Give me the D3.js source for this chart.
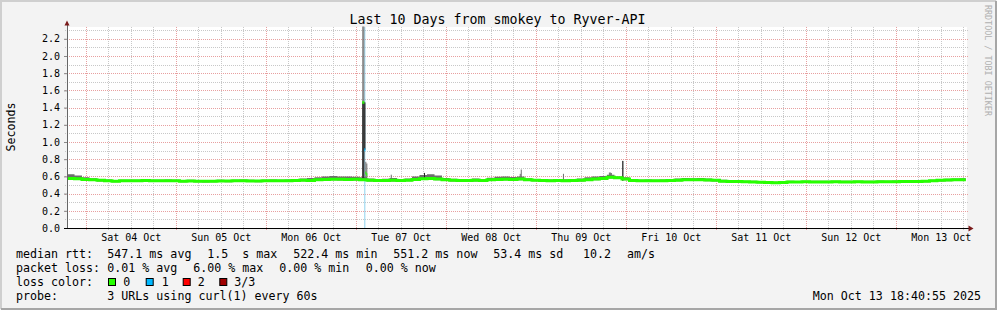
<!DOCTYPE html>
<html>
<head>
<meta charset="utf-8">
<script src="https://cdn.jsdelivr.net/npm/d3@7"></script>
<style>
	body { margin: 0; background: #f3f3f3; }
	svg text { font-family: "DejaVu Sans Mono", monospace; white-space: pre; fill: #000; }
</style>
</head>
<body>
<div id="chart"></div>
<script>
(function () {
	"use strict";

	// ---- data ----
	var title = "Last 10 Days from smokey to Ryver-API";
	var yLabel = "Seconds";
	var yTicks = [0.0, 0.2, 0.4, 0.6, 0.8, 1.0, 1.2, 1.4, 1.6, 1.8, 2.0, 2.2];
	var dayStarts = ["2025-10-04", "2025-10-05", "2025-10-06", "2025-10-07", "2025-10-08",
		"2025-10-09", "2025-10-10", "2025-10-11", "2025-10-12", "2025-10-13"];
	var dayLabels = ["Sat 04 Oct", "Sun 05 Oct", "Mon 06 Oct", "Tue 07 Oct", "Wed 08 Oct",
		"Thu 09 Oct", "Fri 10 Oct", "Sat 11 Oct", "Sun 12 Oct", "Mon 13 Oct"];
	var viewStart = "2025-10-03T19:00:00",
		viewEnd = "2025-10-13T19:00:00",
		lastSample = "2025-10-13T18:40:55";

	// two-hourly samples starting at viewStart (seconds)
	var sampleHours = 2;
	var median = [
		0.575, 0.572, 0.565, 0.560, 0.555, 0.550, 0.545, 0.548, 0.550, 0.548,
		0.552, 0.550, 0.548, 0.550, 0.548, 0.545, 0.547, 0.545, 0.543, 0.545,
		0.547, 0.546, 0.548, 0.550, 0.547, 0.546, 0.548, 0.550, 0.548, 0.550,
		0.552, 0.555, 0.553, 0.560, 0.565, 0.568, 0.567, 0.565, 0.566, 0.560,
		0.555, 0.552, 0.553, 0.555, 0.553, 0.556, 0.565, 0.572, 0.575, 0.570,
		0.560, 0.555, 0.553, 0.552, 0.555, 0.553, 0.560, 0.565, 0.568, 0.565,
		0.570, 0.560, 0.556, 0.553, 0.550, 0.552, 0.550, 0.552, 0.555, 0.562,
		0.570, 0.575, 0.590, 0.585, 0.570, 0.552, 0.548, 0.550, 0.548, 0.550,
		0.552, 0.556, 0.560, 0.560, 0.562, 0.558, 0.555, 0.545, 0.540, 0.540,
		0.537, 0.535, 0.533, 0.530, 0.525, 0.530, 0.535, 0.535, 0.537, 0.535,
		0.536, 0.535, 0.537, 0.535, 0.536, 0.537, 0.535, 0.536, 0.538, 0.537,
		0.538, 0.540, 0.540, 0.542, 0.545, 0.548, 0.555, 0.558, 0.560, 0.562
	];
	var smokeHigh = [
		0.625, 0.610, 0.590, 0.578, 0.570, 0.565, 0.558, 0.560, 0.562, 0.560,
		0.565, 0.562, 0.560, 0.563, 0.560, 0.558, 0.560, 0.557, 0.556, 0.558,
		0.560, 0.558, 0.560, 0.563, 0.560, 0.558, 0.560, 0.563, 0.560, 0.565,
		0.568, 0.575, 0.580, 0.590, 0.600, 0.605, 0.598, 0.600, 0.595, 0.590,
		0.575, 0.570, 0.572, 0.580, 0.570, 0.575, 0.600, 0.615, 0.625, 0.610,
		0.580, 0.572, 0.570, 0.568, 0.575, 0.570, 0.585, 0.595, 0.600, 0.592,
		0.600, 0.578, 0.570, 0.568, 0.565, 0.568, 0.566, 0.570, 0.575, 0.590,
		0.600, 0.605, 0.620, 0.600, 0.590, 0.568, 0.562, 0.565, 0.562, 0.565,
		0.568, 0.575, 0.580, 0.578, 0.580, 0.575, 0.570, 0.560, 0.552, 0.553,
		0.550, 0.548, 0.546, 0.542, 0.538, 0.543, 0.548, 0.547, 0.550, 0.548,
		0.549, 0.548, 0.550, 0.548, 0.549, 0.550, 0.548, 0.549, 0.551, 0.550,
		0.552, 0.553, 0.554, 0.556, 0.558, 0.562, 0.568, 0.572, 0.575, 0.578
	];
	var smokeLow = [
		0.560, 0.560, 0.552, 0.548, 0.542, 0.537, 0.532, 0.535, 0.538, 0.535,
		0.540, 0.537, 0.535, 0.538, 0.535, 0.532, 0.535, 0.532, 0.530, 0.533,
		0.535, 0.533, 0.535, 0.538, 0.534, 0.533, 0.535, 0.538, 0.535, 0.538,
		0.540, 0.543, 0.540, 0.547, 0.552, 0.555, 0.553, 0.552, 0.553, 0.547,
		0.542, 0.540, 0.540, 0.542, 0.540, 0.543, 0.552, 0.558, 0.560, 0.556,
		0.547, 0.542, 0.540, 0.540, 0.542, 0.540, 0.547, 0.552, 0.555, 0.552,
		0.556, 0.547, 0.543, 0.540, 0.537, 0.540, 0.537, 0.540, 0.542, 0.548,
		0.556, 0.560, 0.575, 0.570, 0.556, 0.538, 0.535, 0.537, 0.535, 0.537,
		0.538, 0.543, 0.547, 0.547, 0.549, 0.545, 0.542, 0.533, 0.527, 0.527,
		0.524, 0.522, 0.520, 0.517, 0.512, 0.517, 0.522, 0.522, 0.524, 0.522,
		0.523, 0.522, 0.524, 0.522, 0.523, 0.524, 0.522, 0.523, 0.525, 0.524,
		0.525, 0.527, 0.527, 0.529, 0.532, 0.535, 0.542, 0.545, 0.547, 0.549
	];

	// single-step excursions (16 minute steps)
	var spikeTimes = ["2025-10-07T01:45", "2025-10-07T02:01", "2025-10-07T02:17", "2025-10-07T02:33",
		"2025-10-07T02:49", "2025-10-07T09:20", "2025-10-07T18:12", "2025-10-08T19:44", "2025-10-08T20:00",
		"2025-10-09T07:15", "2025-10-09T19:30", "2025-10-09T19:46", "2025-10-09T20:02", "2025-10-09T23:05"];
	var spikeLow =     [0.56, 0.56, 0.91, 0.57, 0.57, 0.56, 0.56, 0.57, 0.57, 0.55, 0.58, 0.58, 0.58, 0.55];
	var spikeHigh =    [2.50, 2.50, 1.46, 0.77, 0.75, 0.62, 0.64, 0.63, 0.68, 0.63, 0.645, 0.645, 0.64, 0.78];
	var spikeDarkLow = [0.58, 0.58, 0.91, null, null, null, 0.56, null, null, null, null, null, null, 0.55];
	var spikeDarkHigh = [1.46, 1.46, 1.46, null, null, null, 0.64, null, null, null, null, null, null, 0.78];
	var spikeMedian =  [1.46, 1.46, 0.91, 0.64, 0.62, null, null, null, null, null, null, null, null, null];
	var spikeLoss =    [0, 0, 1, 0, 0, 0, 0, 0, 0, 0, 0, 0, 0, 0];

	var lossColors = ["#26ff00", "#00b8ff", "#ff0000", "#a00000"];
	var lossLabels = ["0", "1", "2", "3/3"];

	var legendRtt = [["median rtt:", 16], ["547.1 ms avg", 107.3], ["1.5  s max", 207.3],
		["522.4 ms min", 293.3], ["551.2 ms now", 393.3], ["53.4 ms sd", 493.3], ["10.2", 583], ["am/s", 627]];
	var legendLoss = [["packet loss:", 16], ["0.01 % avg", 107.3], ["6.00 % max", 193.3],
		["0.00 % min", 279.3], ["0.00 % now", 365.7]];
	var probeText = "3 URLs using curl(1) every 60s";
	var stampText = "Mon Oct 13 18:40:55 2025";
	var sideText = "RRDTOOL / TOBI OETIKER";

	// ---- drawing ----
	var W = 997, H = 310,
		plot = {left: 67, right: 967, top: 27, bottom: 228};

	var parse = function (s) { return new Date(s); };
	var svg = d3.select("#chart").append("svg")
		.attr("width", W).attr("height", H);

	svg.append("rect").attr("width", W).attr("height", H).attr("fill", "#f3f3f3");
	// frame
	svg.append("path").attr("d", "M1,309V1H996").attr("fill", "none").attr("stroke", "#cfcfcf").attr("stroke-width", 2);
	svg.append("path").attr("d", "M1,309H996V1").attr("fill", "none").attr("stroke", "#a6a6a6").attr("stroke-width", 2);

	var x = d3.scaleTime()
		.domain([parse(viewStart), parse(viewEnd)])
		.range([plot.left, plot.right]);
	var y = d3.scaleLinear()
		.domain([0, 2.337])
		.range([plot.bottom, plot.top]);

	svg.append("rect")
		.attr("x", plot.left).attr("y", plot.top)
		.attr("width", plot.right - plot.left).attr("height", plot.bottom - plot.top)
		.attr("fill", "#fff");

	svg.append("defs").append("clipPath").attr("id", "clip")
		.append("rect")
		.attr("x", plot.left).attr("y", plot.top - 0.5)
		.attr("width", plot.right - plot.left + 1).attr("height", plot.bottom - plot.top + 0.5);

	// grid
	var grid = svg.append("g").attr("shape-rendering", "crispEdges");
	var minorY = d3.range(1, 24).map(function (i) { return i / 10; }).filter(function (v) { return Math.round(v * 10) % 2; });
	grid.selectAll("line.hmin").data(minorY).enter().append("line")
		.attr("x1", plot.left - 2).attr("x2", plot.right + 1)
		.attr("y1", function (d) { return Math.round(y(d)) + 0.5; })
		.attr("y2", function (d) { return Math.round(y(d)) + 0.5; })
		.attr("stroke", "#c8c8c8").attr("stroke-dasharray", "1,1");
	var sixHours = d3.timeHour.every(6).range(parse(viewStart), parse(viewEnd))
		.filter(function (d) { return d.getHours() !== 0; });
	grid.selectAll("line.vmin").data(sixHours).enter().append("line")
		.attr("x1", function (d) { return Math.round(x(d)) + 0.5; })
		.attr("x2", function (d) { return Math.round(x(d)) + 0.5; })
		.attr("y1", plot.top).attr("y2", plot.bottom + 2)
		.attr("stroke", "#c8c8c8").attr("stroke-dasharray", "1,1");
	grid.selectAll("line.hmaj").data(yTicks.slice(1)).enter().append("line")
		.attr("x1", plot.left - 2).attr("x2", plot.right + 1)
		.attr("y1", function (d) { return Math.round(y(d)) + 0.5; })
		.attr("y2", function (d) { return Math.round(y(d)) + 0.5; })
		.attr("stroke", "#e8a0a0").attr("stroke-dasharray", "1,1");
	grid.selectAll("line.vmaj").data(dayStarts).enter().append("line")
		.attr("x1", function (d) { return Math.round(x(parse(d + "T00:00:00"))) + 0.5; })
		.attr("x2", function (d) { return Math.round(x(parse(d + "T00:00:00"))) + 0.5; })
		.attr("y1", plot.top).attr("y2", plot.bottom + 2)
		.attr("stroke", "#e8a0a0").attr("stroke-dasharray", "1,1");

	var g = svg.append("g").attr("clip-path", "url(#clip)");

	// loss background
	spikeTimes.forEach(function (t, i) {
		if (!spikeLoss[i]) return;
		var t0 = parse(t);
		g.append("rect")
			.attr("x", x(t0)).attr("y", plot.top)
			.attr("width", x(d3.timeMinute.offset(t0, 16)) - x(t0))
			.attr("height", plot.bottom - plot.top)
			.attr("fill", "#8fd3ee");
	});

	// smoke
	var samples = median.map(function (m, i) {
		return {t: d3.timeHour.offset(parse(viewStart), i * sampleHours), med: m, lo: smokeLow[i], hi: smokeHigh[i]};
	});
	var last = samples[samples.length - 1];
	var stepped = samples.concat([{t: parse(lastSample), med: last.med, lo: last.lo, hi: last.hi}]);

	g.append("path")
		.datum(stepped)
		.attr("fill", "#6e6e6e")
		.attr("d", d3.area().curve(d3.curveStepAfter)
			.x(function (d) { return x(d.t); })
			.y0(function (d) { return y(d.lo); })
			.y1(function (d) { return y(d.hi); }));

	var spikes = spikeTimes.map(function (t, i) {
		var t0 = parse(t);
		return {x0: x(t0), x1: x(d3.timeMinute.offset(t0, 16)), lo: spikeLow[i], hi: spikeHigh[i],
			dlo: spikeDarkLow[i], dhi: spikeDarkHigh[i], med: spikeMedian[i], loss: spikeLoss[i]};
	});
	g.selectAll("rect.smoke").data(spikes).enter().append("rect")
		.attr("x", function (d) { return d.x0; })
		.attr("width", function (d) { return d.x1 - d.x0; })
		.attr("y", function (d) { return y(d.hi); })
		.attr("height", function (d) { return y(d.lo) - y(d.hi); })
		.attr("fill", "#6e6e6e");
	g.selectAll("rect.dark").data(spikes.filter(function (d) { return d.dlo !== null; })).enter().append("rect")
		.attr("x", function (d) { return d.x0; })
		.attr("width", function (d) { return d.x1 - d.x0; })
		.attr("y", function (d) { return y(d.dhi); })
		.attr("height", function (d) { return y(d.dlo) - y(d.dhi); })
		.attr("fill", "#262626");

	// median line
	g.append("path")
		.datum(stepped)
		.attr("fill", "none")
		.attr("stroke", lossColors[0])
		.attr("stroke-width", 3)
		.attr("d", d3.line().curve(d3.curveStepAfter)
			.x(function (d) { return x(d.t); })
			.y(function (d) { return y(d.med); }));

	g.selectAll("rect.med").data(spikes.filter(function (d) { return d.med !== null; })).enter().append("rect")
		.attr("x", function (d) { return d.x0; })
		.attr("width", function (d) { return d.x1 - d.x0; })
		.attr("y", function (d) { return y(d.med) - 1.5; })
		.attr("height", 3)
		.attr("fill", function (d) { return lossColors[d.loss]; });

	// axes
	var yAxis = svg.append("g")
		.attr("transform", "translate(" + plot.left + ",0)")
		.call(d3.axisLeft(y).tickValues(yTicks).tickFormat(d3.format(".1f")).tickSize(3).tickPadding(4));
	yAxis.select(".domain").remove();
	yAxis.selectAll("line").attr("stroke", "#888");
	yAxis.selectAll("text").attr("font-size", "10px").attr("font-family", "DejaVu Sans Mono");

	var noons = dayStarts.map(function (d) { return parse(d + "T12:00:00"); });
	var xAxis = svg.append("g")
		.attr("transform", "translate(0," + plot.bottom + ")")
		.call(d3.axisBottom(x).tickValues(noons)
			.tickFormat(function (d, i) { return dayLabels[i]; })
			.tickSize(0).tickPadding(6));
	xAxis.select(".domain").remove();
	xAxis.selectAll("text").attr("font-size", "10px").attr("font-family", "DejaVu Sans Mono");

	svg.append("line")
		.attr("x1", plot.left).attr("x2", plot.left)
		.attr("y1", plot.bottom).attr("y2", 23)
		.attr("stroke", "#666").attr("shape-rendering", "crispEdges");
	svg.append("line")
		.attr("x1", plot.left - 3).attr("x2", plot.right + 2)
		.attr("y1", plot.bottom + 0.5).attr("y2", plot.bottom + 0.5)
		.attr("stroke", "#000").attr("shape-rendering", "crispEdges");
	svg.append("path").attr("d", "M64.5,25.5L69.5,25.5L67,20.5Z").attr("fill", "#7a1a1a");
	svg.append("path").attr("d", "M968.5,225.5L968.5,231.5L973.5,228.5Z").attr("fill", "#7a1a1a");

	// texts
	svg.append("text")
		.attr("x", 497.5).attr("y", 24)
		.attr("text-anchor", "middle").attr("font-size", "13.3px")
		.text(title);
	svg.append("text")
		.attr("transform", "translate(15,127) rotate(-90)")
		.attr("text-anchor", "middle").attr("font-size", "11.6px")
		.text(yLabel);
	svg.append("text")
		.attr("transform", "translate(985,5) rotate(90)")
		.attr("font-size", "8.4px")
		.style("fill", "#b0b0b0")
		.text(sideText);

	var legend = svg.append("g").attr("font-size", "11.65px");
	legendRtt.forEach(function (p) {
		legend.append("text").attr("x", p[1]).attr("y", 257.5).text(p[0]);
	});
	legendLoss.forEach(function (p) {
		legend.append("text").attr("x", p[1]).attr("y", 271.5).text(p[0]);
	});
	legend.append("text").attr("x", 16).attr("y", 285.5).text("loss color:");
	var boxX = [108, 145.7, 182.7, 219.3], labelX = [123.3, 161.7, 197.7, 234.3];
	lossColors.forEach(function (c, i) {
		legend.append("rect")
			.attr("x", boxX[i] + 0.5).attr("y", 278.5)
			.attr("width", 7).attr("height", 7)
			.attr("fill", c).attr("stroke", "#000");
		legend.append("text").attr("x", labelX[i]).attr("y", 285.5).text(lossLabels[i]);
	});
	legend.append("text").attr("x", 16).attr("y", 299.5).text("probe:");
	legend.append("text").attr("x", 107.3).attr("y", 299.5).text(probeText);
	legend.append("text").attr("x", 981).attr("y", 299.5).attr("text-anchor", "end").text(stampText);
})();
</script>
</body>
</html>
